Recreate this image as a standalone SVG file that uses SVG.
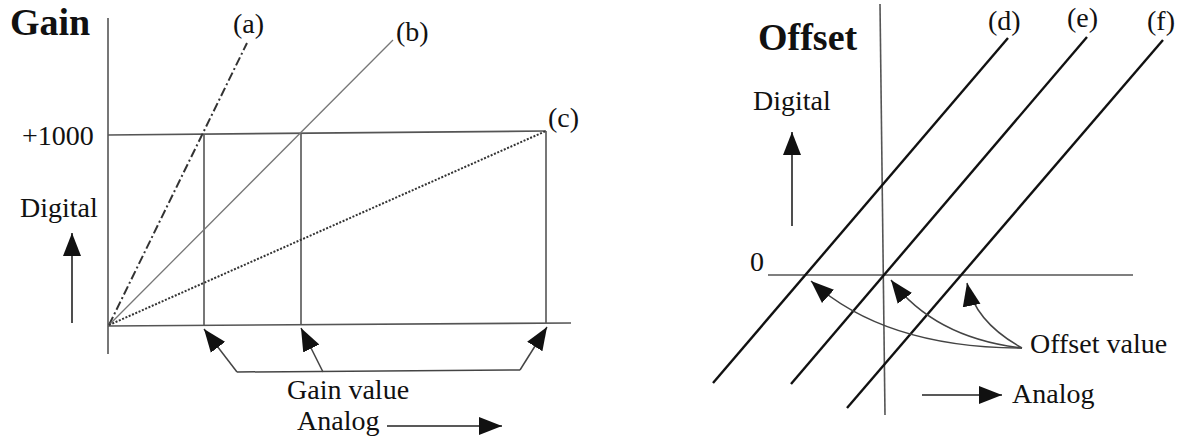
<svg xmlns="http://www.w3.org/2000/svg" width="1183" height="440" viewBox="0 0 1183 440">
<style>
text{font-family:"Liberation Serif","Times New Roman",serif;fill:#111}
.t{font-size:28px}
.h{font-size:38px;font-weight:bold}
.lbl{font-size:28px}
.ax{stroke:#555;stroke-width:1.6;fill:none}
.thin{stroke:#777;stroke-width:1.3;fill:none}
.diag{stroke:#111;stroke-width:2.4;fill:none}
.br{stroke:#444;stroke-width:1.5;fill:none}
.arr{stroke:#444;stroke-width:1.5;fill:none;marker-end:url(#ah)}
.arrk{stroke:#222;stroke-width:1.6;fill:none;marker-end:url(#ah)}
</style>
<defs>
<marker id="ah" markerUnits="userSpaceOnUse" markerWidth="24" markerHeight="20" viewBox="0 0 24 20" refX="23" refY="10" orient="auto">
<path d="M0,1 L23,10 L0,19 Z" fill="#111"/>
</marker>
</defs>
<g id="gain-panel">
<text class="h" x="10" y="35">Gain</text>
<g id="gain-axes">
<line class="ax" x1="108" y1="18" x2="108" y2="354"/>
<line class="ax" x1="108" y1="326" x2="571" y2="323"/>
<line class="ax" x1="108" y1="135" x2="546" y2="131"/>
<line class="ax" x1="204" y1="135" x2="204" y2="326"/>
<line class="ax" x1="301" y1="134" x2="301" y2="325"/>
<line class="ax" x1="546" y1="131" x2="546" y2="323"/>
</g>
<g id="line-a"><line x1="109" y1="325" x2="247" y2="43" stroke="#333" stroke-width="2" stroke-dasharray="9,3,2,3"/></g>
<g id="line-b"><line class="thin" x1="109" y1="325" x2="393" y2="40"/></g>
<g id="line-c"><line x1="109" y1="325" x2="546" y2="131" stroke="#333" stroke-width="2" stroke-dasharray="2,1.6"/></g>
<text class="lbl" x="233" y="33">(a)</text>
<text class="lbl" x="396" y="41">(b)</text>
<text class="lbl" x="548" y="127">(c)</text>
<text class="t" x="22" y="145">+1000</text>
<text class="t" x="20" y="217">Digital</text>
<text class="t" x="287" y="399">Gain value</text>
<text class="t" x="297" y="430">Analog</text>
</g>
<g id="offset-panel">
<text class="h" x="758" y="50">Offset</text>
<g id="offset-axes">
<line class="ax" x1="880" y1="4" x2="885" y2="415"/>
<line class="ax" x1="768" y1="275" x2="1133" y2="275"/>
</g>
<g id="line-d"><line class="diag" x1="1008" y1="38" x2="713" y2="383"/></g>
<g id="line-e"><line class="diag" x1="1087" y1="37" x2="791" y2="384"/></g>
<g id="line-f"><line class="diag" x1="1163" y1="40" x2="847" y2="408"/></g>
<text class="lbl" x="988" y="30">(d)</text>
<text class="lbl" x="1067" y="27">(e)</text>
<text class="lbl" x="1147" y="30">(f)</text>
<text class="t" x="750" y="271">0</text>
<text class="t" x="753" y="110">Digital</text>
<text class="t" x="1030" y="353">Offset value</text>
<text class="t" x="1012" y="403">Analog</text>
</g>
<g id="connectors">
<line class="arrk" x1="72" y1="323" x2="72" y2="233"/>
<line class="br" x1="237" y1="372" x2="520" y2="370"/>
<line class="arr" x1="237" y1="372" x2="204" y2="329"/>
<line class="arr" x1="323" y1="372" x2="301" y2="328"/>
<line class="arr" x1="520" y1="370" x2="547" y2="327"/>
<line class="arrk" x1="387" y1="426" x2="502" y2="426"/>
<line class="arrk" x1="792" y1="226" x2="792" y2="132"/>
<path class="arr" d="M1022,348 Q885,348 811,281"/>
<path class="arr" d="M1022,348 Q935,338 891,280"/>
<path class="arr" d="M1022,348 Q975,322 967,283"/>
<line class="arrk" x1="922" y1="395" x2="1002" y2="395"/>
</g>
</svg>
